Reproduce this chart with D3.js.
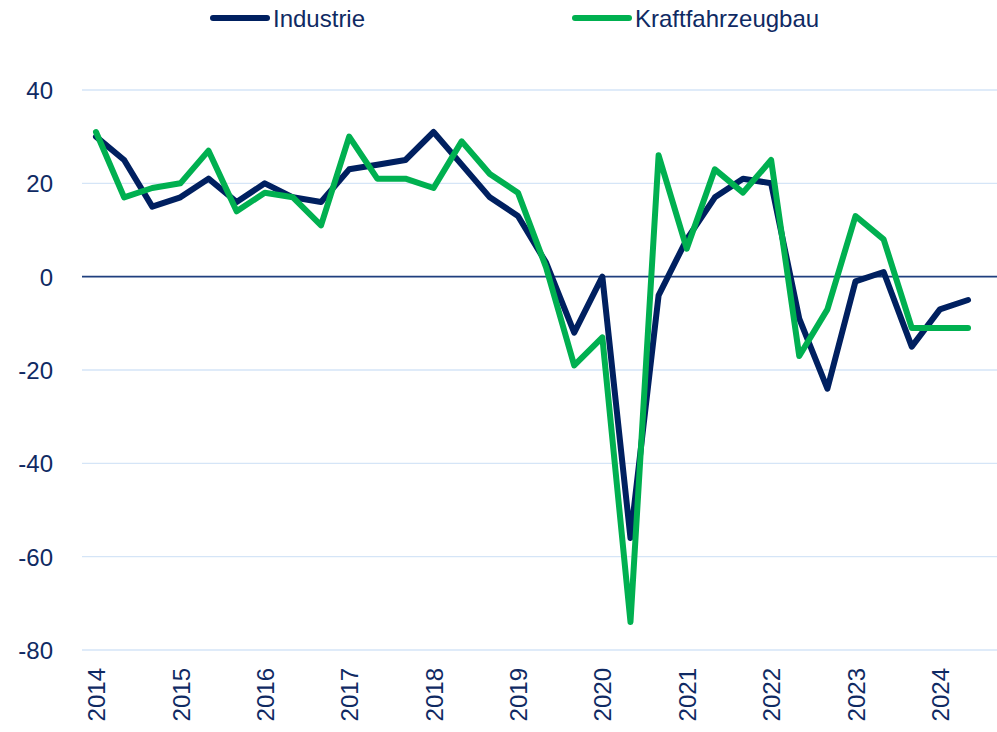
<!DOCTYPE html>
<html>
<head>
<meta charset="utf-8">
<script src="https://cdn.jsdelivr.net/npm/d3@7"></script>
<style>
  html, body { margin: 0; padding: 0; background: #fff; }
  svg { display: block; font-family: "Liberation Sans", Arial, sans-serif; }
</style>
</head>
<body>
<svg id="chart" width="997" height="732"></svg>
<script>
// ---- data ----
const years = [2014, 2015, 2016, 2017, 2018, 2019, 2020, 2021, 2022, 2023, 2024];
const pointsPerYear = 3;
const industrie = [30, 25, 15, 17, 21, 16, 20, 17, 16, 23, 24, 25, 31, 24, 17, 13, 3, -12, 0, -56, -4, 8, 17, 21, 20, -9, -24, -1, 1, -15, -7, -5];
const kfz = [31, 17, 19, 20, 27, 14, 18, 17, 11, 30, 21, 21, 19, 29, 22, 18, 2, -19, -13, -74, 26, 6, 23, 18, 25, -17, -7, 13, 8, -11, -11, -11];
const yTicks = [40, 20, 0, -20, -40, -60, -80];
const seriesNames = ["Industrie", "Kraftfahrzeugbau"];
const seriesColors = ["#002060", "#00b050"];

// ---- layout ----
const svg = d3.select("#chart");
const textColor = "#0f2a63";
const x = d3.scaleLinear().domain([0, 32.5]).range([96, 96 + 28.13 * 32.5]);
const y = d3.scaleLinear().domain([-80, 40]).range([650, 90]);
const gridLeft = 82, gridRight = 997;

// gridlines
svg.append("g").selectAll("line").data(yTicks.filter(d => d !== 0)).join("line")
  .attr("x1", gridLeft).attr("x2", gridRight)
  .attr("y1", d => y(d)).attr("y2", d => y(d))
  .attr("stroke", "#d5e5f7").attr("stroke-width", 1.3);

// zero line
svg.append("line")
  .attr("x1", gridLeft).attr("x2", gridRight)
  .attr("y1", y(0)).attr("y2", y(0))
  .attr("stroke", "#1f3f7e").attr("stroke-width", 1.6);

// y axis labels (hyphen minus as in the original)
const yAxis = d3.axisLeft(y).tickValues(yTicks).tickSize(0).tickPadding(0)
  .tickFormat(d => String(d));
const gy = svg.append("g").attr("transform", "translate(53,0)").call(yAxis);
gy.select(".domain").remove();
gy.selectAll("text").attr("fill", textColor).style("font-size", "24px")
  .style("font-family", "'Liberation Sans', Arial, sans-serif").attr("dy", "0.36em");

// x axis labels (years, rotated)
const xAxis = d3.axisBottom(x)
  .tickValues(years.map((d, i) => i * pointsPerYear))
  .tickFormat((d, i) => years[i]).tickSize(0).tickPadding(0);
const gx = svg.append("g").attr("transform", "translate(0,668)").call(xAxis);
gx.select(".domain").remove();
gx.selectAll("text")
  .attr("fill", textColor).style("font-size", "24px")
  .style("font-family", "'Liberation Sans', Arial, sans-serif")
  .attr("text-anchor", "end")
  .attr("transform", "rotate(-90)")
  .attr("x", 0).attr("y", 0).attr("dy", "0.36em");

// lines
const line = d3.line().x((d, i) => x(i)).y(d => y(d));
[industrie, kfz].forEach((s, k) => {
  svg.append("path").datum(s)
    .attr("d", line)
    .attr("fill", "none")
    .attr("stroke", seriesColors[k])
    .attr("stroke-width", 6)
    .attr("stroke-linejoin", "round")
    .attr("stroke-linecap", "round");
});

// legend
const legendX = [213, 575];
seriesNames.forEach((name, k) => {
  const g = svg.append("g").attr("transform", `translate(${legendX[k]},18)`);
  g.append("line").attr("x1", 0).attr("x2", 54).attr("y1", 0).attr("y2", 0)
    .attr("stroke", seriesColors[k]).attr("stroke-width", 6).attr("stroke-linecap", "round");
  g.append("text").attr("x", 60).attr("y", 8.5)
    .attr("fill", textColor).style("font-size", "24px").text(name);
});
</script>
</body>
</html>
